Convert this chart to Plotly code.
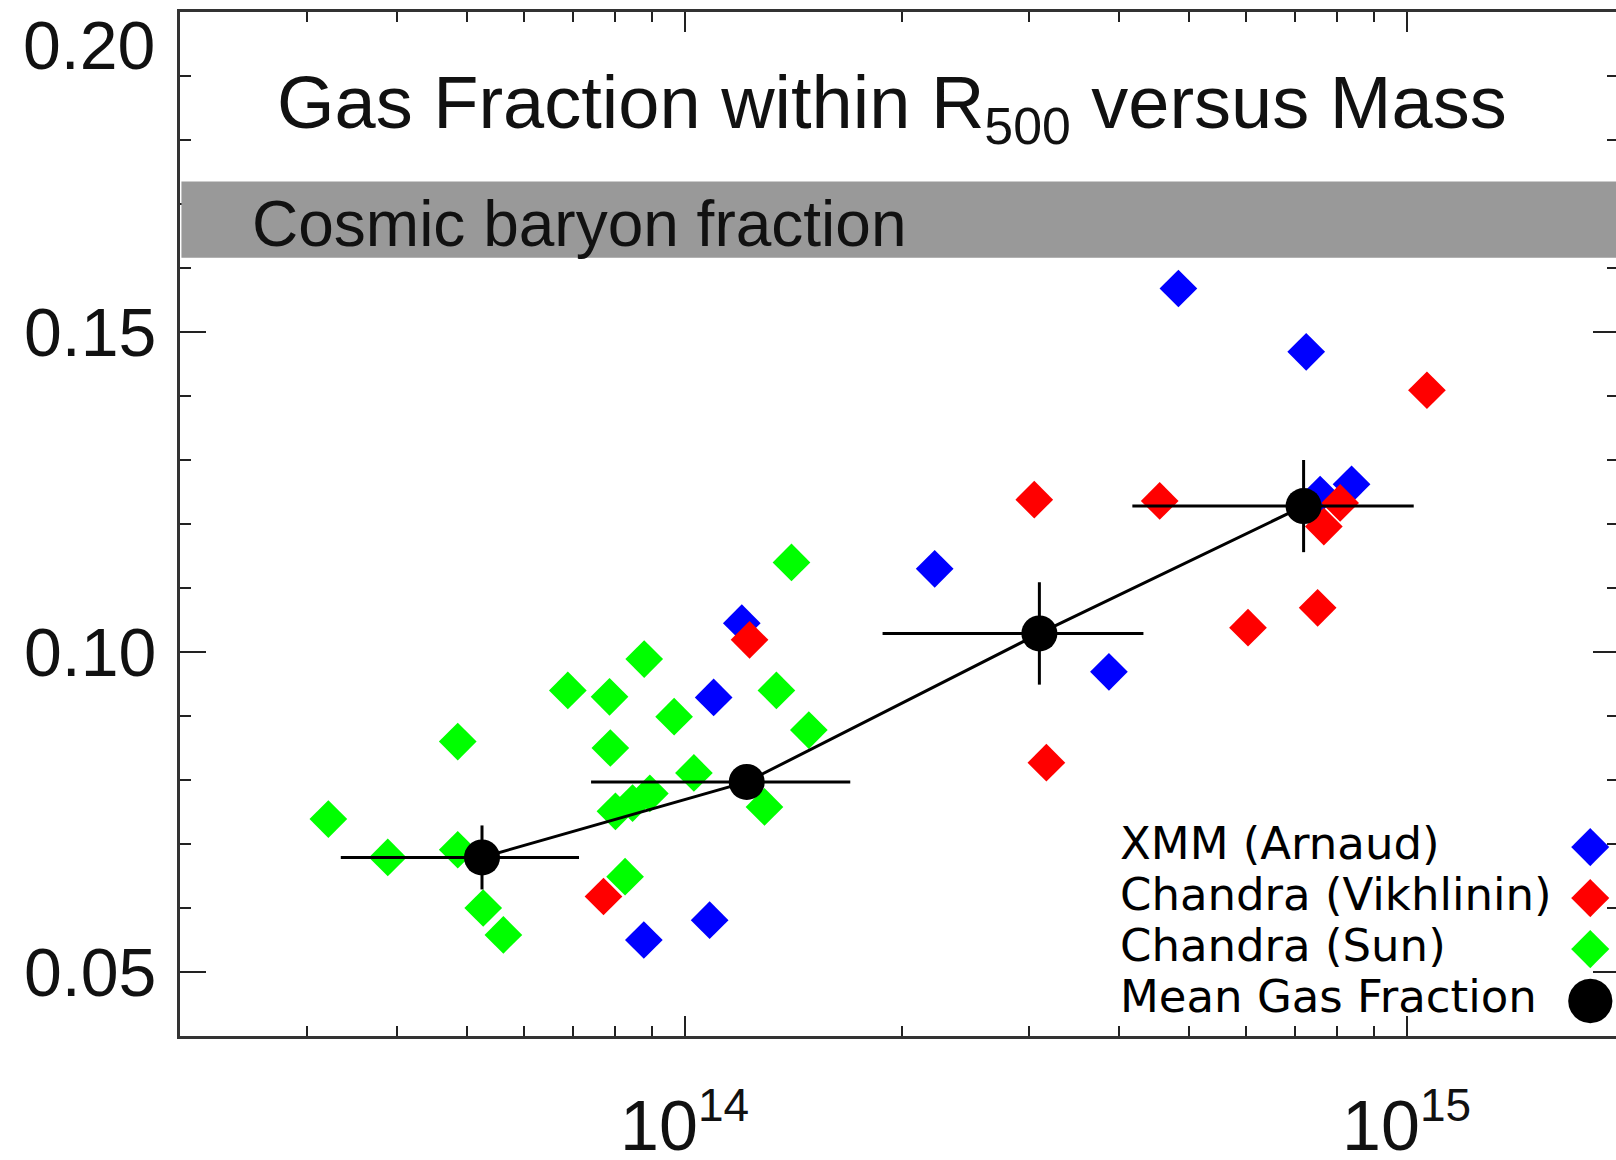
import math
import plotly.graph_objects as go

# ---------------- data ----------------
# XMM-Newton clusters (Arnaud et al.)
xmm_mass = [4.83e14, 7.26e14, 8.39e14, 7.59e14, 2.22e14, 3.87e14, 1.20e14, 1.097e14, 8.78e13, 1.083e14]
xmm_fgas = [0.1568, 0.1469, 0.1262, 0.1246, 0.1130, 0.0969, 0.1045, 0.0929, 0.0550, 0.0581]

# Chandra clusters (Vikhlinin et al.)
vik_mass = [1.067e15, 3.05e14, 4.55e14, 8.09e14, 7.68e14, 6.03e14, 7.53e14, 3.17e14, 1.23e14, 7.72e13]
vik_fgas = [0.1409, 0.1238, 0.1236, 0.1233, 0.1196, 0.1038, 0.1069, 0.0827, 0.1019, 0.0618]

# Chandra groups (Sun et al.)
sun_mass = [3.21e13, 3.88e13, 4.85e13, 4.85e13, 5.26e13, 5.61e13, 6.89e13, 7.87e13, 8.79e13, 9.67e13,
            7.89e13, 1.03e14, 8.95e13, 8.02e13, 8.47e13, 1.29e14, 1.34e14, 1.486e14, 1.406e14, 8.27e13]
sun_fgas = [0.0739, 0.0679, 0.0860, 0.0691, 0.0600, 0.0558, 0.0940, 0.0930, 0.0989, 0.0899,
            0.0850, 0.0811, 0.0779, 0.0751, 0.0764, 0.0758, 0.0940, 0.0878, 0.1140, 0.0649]

# Binned mean gas fraction with scatter
mean_mass = [5.24e13, 1.219e14, 3.10e14, 7.20e14]
mean_mass_err = [1.90e13, 4.77e13, 1.22e14, 3.03e14]
mean_fgas = [0.0679, 0.0797, 0.1029, 0.1228]
mean_fgas_err = [0.0050, 0.0020, 0.0080, 0.0072]

# Cosmic baryon fraction band
cosmic_lo, cosmic_hi = 0.1616, 0.1735

# Axis settings
mass_range = [2.0e13, 1.95e15]
fgas_range = [0.04, 0.20]
x_major = [1e14, 1e15]
x_major_text = ['10<sup><span style="font-size:46px">14</span></sup>',
                '10<sup><span style="font-size:46px">15</span></sup>']
x_minor = [m * 10.0 ** e for e in (13, 14) for m in range(2, 10) if m * 10.0 ** e > 2.0e13]
y_major = [0.05, 0.10, 0.15, 0.20]
y_major_text = ["0.05", "0.10", "0.15", ""]

legend_names = ["XMM (Arnaud)", "Chandra (Vikhlinin)", "Chandra (Sun)", "Mean Gas Fraction"]
legend_colors = ["#0000ff", "#ff0000", "#00ff00", "#000000"]
legend_glyphs = ["\u25c6", "\u25c6", "\u25c6", "\u25cf"]
legend_glyph_sizes = [50, 50, 50, 58]

# ---------------- layout geometry (pixels) ----------------
W, H = 1616, 1160
ML, MR, MT, MB = 180, 0, 12, 124
PW, PH = W - ML - MR, H - MT - MB


def px_x(px):
    return (px - ML) / PW


def px_y(py):
    return 1 - (py - MT) / PH


x_log_range = [math.log10(mass_range[0]), math.log10(mass_range[1])]

diamond = dict(symbol="diamond", size=29, line=dict(width=0))

fig = go.Figure()
fig.add_trace(go.Scatter(x=xmm_mass, y=xmm_fgas, mode="markers",
                         marker=dict(color="#0000ff", **diamond), showlegend=False))
fig.add_trace(go.Scatter(x=vik_mass, y=vik_fgas, mode="markers",
                         marker=dict(color="#ff0000", **diamond), showlegend=False))
fig.add_trace(go.Scatter(x=sun_mass, y=sun_fgas, mode="markers",
                         marker=dict(color="#00ff00", **diamond), showlegend=False))
fig.add_trace(go.Scatter(
    x=mean_mass, y=mean_fgas, mode="lines+markers",
    line=dict(color="black", width=3),
    marker=dict(color="black", size=36, symbol="circle"),
    error_x=dict(type="data", array=mean_mass_err, color="black", thickness=3, width=0),
    error_y=dict(type="data", array=mean_fgas_err, color="black", thickness=3, width=0),
    showlegend=False))
# carrier for the right-hand tick axis
fig.add_trace(go.Scatter(x=[mass_range[0]], y=[fgas_range[0]], yaxis="y2", mode="markers",
                         marker=dict(size=0, opacity=0), showlegend=False, hoverinfo="skip"))

tick_font = dict(family="Liberation Sans, Arial, sans-serif", size=68, color="#111111")

fig.update_layout(
    width=W, height=H,
    margin=dict(l=ML, r=MR, t=MT, b=MB, pad=0, autoexpand=False),
    paper_bgcolor="white", plot_bgcolor="white",
    showlegend=False,
    xaxis=dict(
        type="log", range=x_log_range, automargin=False,
        tickmode="array", tickvals=x_major, ticktext=x_major_text,
        ticks="inside", ticklen=20, tickwidth=2, tickcolor="#222222",
        minor=dict(tickmode="array", tickvals=x_minor, ticks="inside", ticklen=10,
                   tickwidth=2, tickcolor="#222222", showgrid=False),
        showline=True, linewidth=3, linecolor="#333333", mirror="ticks",
        showgrid=False, zeroline=False,
        tickfont=dict(family="Liberation Sans, Arial, sans-serif", size=70, color="#111111"),
        ticklabelstandoff=27,
    ),
    yaxis=dict(
        range=fgas_range, automargin=False,
        tickmode="array", tickvals=y_major, ticktext=y_major_text,
        ticks="inside", ticklen=26, tickwidth=2, tickcolor="#222222",
        minor=dict(dtick=0.01, tick0=0.0, ticks="inside", ticklen=11,
                   tickwidth=2, tickcolor="#222222", showgrid=False),
        showline=True, linewidth=3, linecolor="#333333", mirror=False,
        showgrid=False, zeroline=False,
        tickfont=tick_font, ticklabelstandoff=7,
    ),
    yaxis2=dict(
        range=fgas_range, overlaying="y", side="right", anchor="x", automargin=False,
        tickmode="array", tickvals=y_major, showticklabels=False,
        ticks="inside", ticklen=23, tickwidth=2, tickcolor="#222222",
        minor=dict(dtick=0.01, tick0=0.0, ticks="inside", ticklen=9,
                   tickwidth=2, tickcolor="#222222", showgrid=False),
        showline=False, showgrid=False, zeroline=False,
    ),
)

# cosmic baryon fraction band
fig.add_shape(type="rect", xref="paper", yref="y", x0=0.001, x1=1, y0=cosmic_lo, y1=cosmic_hi,
              fillcolor="#999999", line=dict(width=0), layer="above")

annotations = [
    dict(text="Gas Fraction within R<sub>500</sub> versus Mass", x=px_x(275), y=px_y(108),
         xanchor="left", yanchor="middle",
         font=dict(family="Liberation Sans, Arial, sans-serif", size=74, color="#111111")),
    dict(text="Cosmic baryon fraction", x=px_x(250), y=px_y(224),
         xanchor="left", yanchor="middle",
         font=dict(family="Liberation Sans, Arial, sans-serif", size=64, color="#111111")),
    dict(text="0.20", x=px_x(157), y=px_y(45), xanchor="right", yanchor="middle",
         font=tick_font),
]

row_y = [843, 894, 945, 996]
for name, color, glyph, gsize, ry in zip(legend_names, legend_colors, legend_glyphs,
                                         legend_glyph_sizes, row_y):
    annotations.append(dict(text=name, x=px_x(1118), y=px_y(ry), xanchor="left", yanchor="middle",
                            font=dict(family="DejaVu Sans, sans-serif", size=45, color="black")))
    annotations.append(dict(text=glyph, x=px_x(1590), y=px_y(ry), xanchor="center", yanchor="middle",
                            font=dict(family="DejaVu Sans, sans-serif", size=gsize, color=color)))

for a in annotations:
    a.update(xref="paper", yref="paper", showarrow=False)
fig.update_layout(annotations=annotations)

fig.write_html("out.html")
